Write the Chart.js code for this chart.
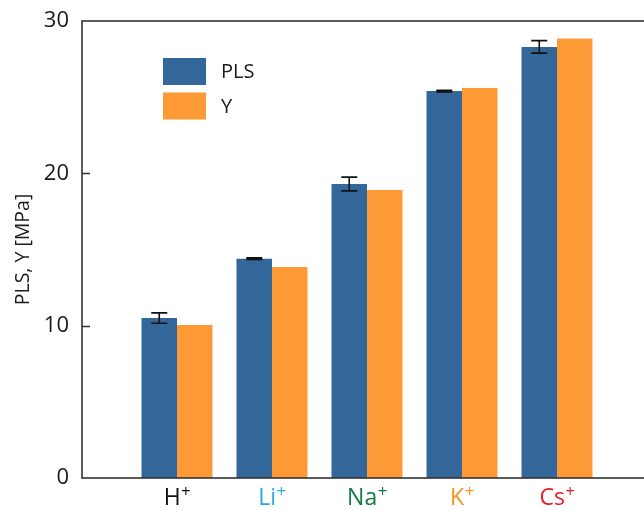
<!DOCTYPE html>
<html>
<head>
<meta charset="utf-8">
<script src="https://cdn.jsdelivr.net/npm/chart.js@4/dist/chart.umd.min.js"></script>
<style>
  html, body { margin: 0; padding: 0; background: #fff; }
  #wrap { width: 644px; height: 510px; overflow: hidden; position: relative; }
  canvas { display: block; }
</style>
</head>
<body>
<div id="wrap"><canvas id="c" width="670" height="510"></canvas></div>
<script>
// Cations (symbol + charge) and their label colours
const ions = ['H', 'Li', 'Na', 'K', 'Cs'];
const ionCharge = '+';
const ionColors = ['#111111', '#29abe2', '#127a45', '#f7931e', '#e61e25'];

// PLS (with standard deviation) and Y, in MPa
const plsValues = [10.5, 14.4, 19.3, 25.4, 28.3];
const plsErrors = [0.34, 0.05, 0.45, 0.05, 0.41];
const yValues = [10.05, 13.85, 18.9, 25.6, 28.85];

// Value axis
const yTickValues = [0, 10, 20, 30];

const seriesNames = ['PLS', 'Y'];
const seriesColors = ['#336699', '#fd9a35'];

// One empty slot on each side so the groups sit one step in from the frame
const labels = [''].concat(ions.map(s => s + ionCharge), ['']);
const pad = arr => [null].concat(arr, [null]);

const FONT = '"Open Sans", "DejaVu Sans", sans-serif';
const INK = '#1a1a1a';

const framePlugin = {
  id: 'frame',
  afterDatasetsDraw(chart) {
    const { ctx, chartArea: a, scales } = chart;
    const y = scales.y;
    ctx.save();
    ctx.strokeStyle = '#333333';
    ctx.lineWidth = 1.6;
    ctx.strokeRect(a.left, a.top, a.right - a.left, a.bottom - a.top);
    // inward ticks on both vertical sides
    ctx.lineWidth = 1.4;
    y.ticks.forEach(t => {
      if (t.value <= y.min || t.value >= y.max) return;
      const py = Math.round(y.getPixelForValue(t.value)) + 0.5;
      ctx.beginPath();
      ctx.moveTo(a.left, py); ctx.lineTo(a.left + 8, py);
      ctx.moveTo(a.right, py); ctx.lineTo(a.right - 8, py);
      ctx.stroke();
    });
    ctx.restore();
  }
};

// Category labels with a raised charge sign
const ionLabelPlugin = {
  id: 'ionLabels',
  afterDraw(chart) {
    const { ctx, chartArea: a, scales } = chart;
    const x = scales.x;
    ctx.save();
    ctx.textBaseline = 'alphabetic';
    ctx.textAlign = 'left';
    ions.forEach((sym, i) => {
      const cx = x.getPixelForValue(i + 1);
      ctx.font = '23px ' + FONT;
      const w1 = ctx.measureText(sym).width;
      ctx.font = '17px ' + FONT;
      const w2 = ctx.measureText(ionCharge).width;
      const left = cx - (w1 + w2) / 2;
      const base = a.bottom + 27;
      ctx.fillStyle = ionColors[i];
      ctx.font = '23px ' + FONT;
      ctx.fillText(sym, left, base);
      ctx.font = '17px ' + FONT;
      ctx.fillText(ionCharge, left + w1 + 0.5, base - 8);
    });
    ctx.restore();
  }
};

const errorBarPlugin = {
  id: 'errorBars',
  afterDatasetsDraw(chart) {
    const { ctx, scales } = chart;
    const meta = chart.getDatasetMeta(0);
    const y = scales.y;
    ctx.save();
    ctx.strokeStyle = '#111111';
    ctx.lineWidth = 1.6;
    plsValues.forEach((v, i) => {
      const bar = meta.data[i + 1];
      if (!bar) return;
      const x = bar.x;
      const top = y.getPixelForValue(v + plsErrors[i]);
      const bot = y.getPixelForValue(v - plsErrors[i]);
      const half = 8;
      ctx.beginPath();
      ctx.moveTo(x, top); ctx.lineTo(x, bot);
      ctx.moveTo(x - half, top); ctx.lineTo(x + half, top);
      ctx.moveTo(x - half, bot); ctx.lineTo(x + half, bot);
      ctx.stroke();
    });
    ctx.restore();
  }
};

const legendPlugin = {
  id: 'boxLegend',
  afterDraw(chart) {
    const { ctx } = chart;
    ctx.save();
    ctx.font = '20px ' + FONT;
    ctx.textBaseline = 'middle';
    ctx.textAlign = 'left';
    chart.data.datasets.forEach((ds, i) => {
      const bx = 163, by = 58 + i * 34.5, bw = 43, bh = 27;
      ctx.fillStyle = ds.backgroundColor;
      ctx.fillRect(bx, by, bw, bh);
      ctx.fillStyle = INK;
      ctx.fillText(ds.label, 221, by + bh / 2 + 1);
    });
    ctx.restore();
  }
};

new Chart(document.getElementById('c'), {
  type: 'bar',
  data: {
    labels: labels,
    datasets: [
      { label: seriesNames[0], data: pad(plsValues), backgroundColor: seriesColors[0] },
      { label: seriesNames[1], data: pad(yValues), backgroundColor: seriesColors[1] }
    ]
  },
  options: {
    responsive: false,
    animation: false,
    devicePixelRatio: 1,
    layout: { padding: { top: 21, right: 18, left: 0, bottom: 0 } },
    datasets: { bar: { categoryPercentage: 0.747, barPercentage: 1.0, borderWidth: 0 } },
    plugins: {
      legend: { display: false },
      tooltip: { enabled: false }
    },
    scales: {
      x: {
        offset: false,
        grid: { display: false, drawTicks: false },
        border: { display: false },
        ticks: { display: false },
        afterFit: s => { s.height = 32; s.paddingLeft = 0; s.paddingRight = 0; }
      },
      y: {
        min: 0,
        max: 30,
        afterBuildTicks: s => { s.ticks = yTickValues.map(v => ({ value: v })); },
        grid: { display: false, drawTicks: false },
        border: { display: false },
        ticks: {
          padding: 13,
          font: { family: FONT, size: 22 },
          color: INK
        },
        title: {
          display: true,
          text: 'PLS, Y [MPa]',
          font: { family: FONT, size: 19.5 },
          color: INK,
          padding: { top: 12, bottom: 0 }
        },
        afterFit: s => { s.width = 82; s.paddingTop = 0; s.paddingBottom = 0; }
      }
    }
  },
  plugins: [framePlugin, errorBarPlugin, legendPlugin, ionLabelPlugin]
});
</script>
</body>
</html>
